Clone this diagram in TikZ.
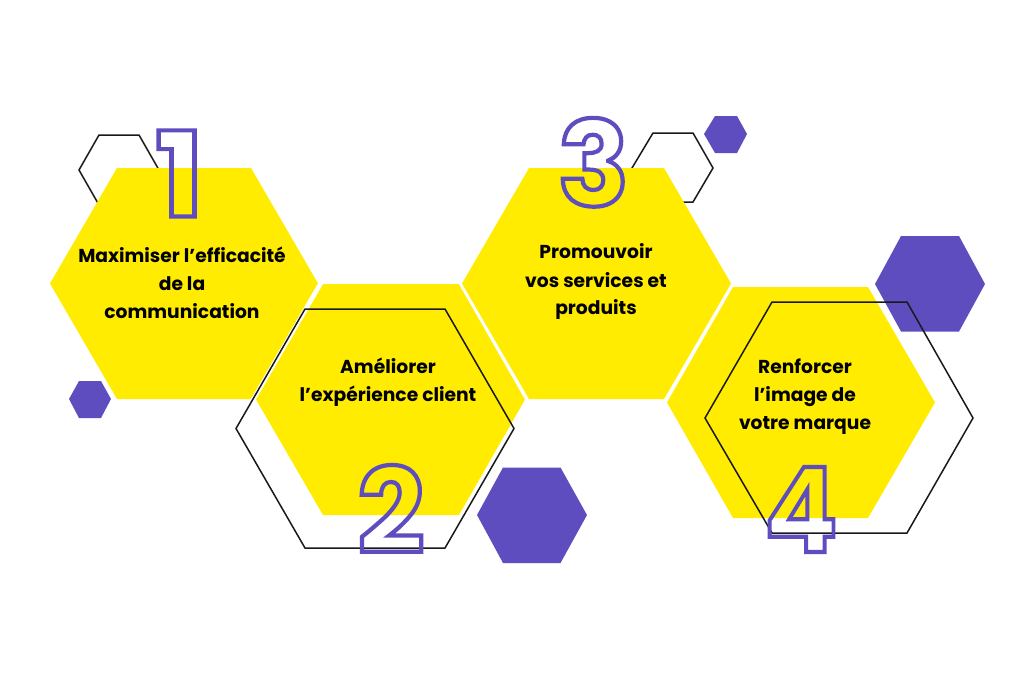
\documentclass[tikz,border=0pt]{standalone}
\usepackage{fontspec}
\setmainfont{Poppins}
\definecolor{hexyellow}{HTML}{FFEC00}
\definecolor{hexpurple}{HTML}{5E4DBE}
\newcommand{\outlinedigit}[1]{\special{pdf:code q 1 Tr 4.2 w 0.369 0.302 0.745 RG}#1\special{pdf:code 0 Tr Q}}
\tikzset{
  x=1pt,y=-1pt,
  yellowhex/.style={fill=hexyellow,draw=none},
  purplehex/.style={fill=hexpurple,draw=none},
  linehex/.style={draw=black!90,line width=1.5pt,line join=miter},
  label/.style={font=\fontsize{18.7}{20}\selectfont\bfseries,text=black,anchor=base,inner sep=0pt},
  numeral/.style={font=\fontsize{118}{118}\selectfont\bfseries,anchor=base,inner sep=0pt},
}
\begin{document}
\begin{tikzpicture}
\useasboundingbox (0,0) rectangle (1024,683);
\fill[white] (0,0) rectangle (1024,683);
% back shapes
\draw[linehex] (79,170)--(99,135)--(139,135)--(159,170)--(139,205)--(99,205)--cycle;
\draw[linehex] (632,168)--(653,133)--(693,133)--(713,168)--(693,202)--(653,202)--cycle;
\fill[purplehex] (69,399)--(79,381)--(101,381)--(111,399)--(101,418)--(79,418)--cycle;
\fill[purplehex] (477,515)--(503,467.5)--(560.5,467.5)--(587,515)--(560.5,563)--(503,563)--cycle;
\fill[purplehex] (704,134)--(715,116)--(737,116)--(747,134)--(737,153)--(715,153)--cycle;
\fill[purplehex] (875,284)--(901,236)--(959,236)--(985,284)--(959,331.5)--(901,331.5)--cycle;
% yellow hexagons
\fill[yellowhex] (50,283.5)--(117,168)--(251,168)--(318,283.5)--(251,399)--(117,399)--cycle;
\fill[yellowhex] (256,399.5)--(323,284)--(459,284)--(525,399.5)--(459,515)--(323,515)--cycle;
\fill[white] (318,283.5)--(251,399)--(256,399) --(323,283.5)--cycle;
\fill[white] (459,284)--(525,399)--(528,399)--(462,283.5)--cycle;
\fill[yellowhex] (462,283.5)--(529,168)--(664,168)--(731,283.5)--(664,399)--(529,399)--cycle;
\fill[yellowhex] (667,402.5)--(733,287)--(868,287)--(935,402.5)--(868,518)--(733,518)--cycle;
% front outlines
\draw[linehex] (236,428.5)--(305,309)--(445,309)--(514,428.5)--(445,548)--(305,548)--cycle;
\draw[linehex] (705,418)--(772,302)--(907,302)--(973,418)--(907,533)--(772,533)--cycle;
% numbers
\node[numeral] (n1) at (179.5,216.5) {\scalebox{1.1}[1]{\outlinedigit{1}}};
\node[numeral] (n2) at (391,553) {\outlinedigit{2}};
\node[numeral] (n3) at (593.5,206) {\outlinedigit{3}};
\node[numeral] (n4) at (801,552) {\scalebox{0.92}[1]{\outlinedigit{4}}};
% labels
\node[label] (t1a) at (182,262) {Maximiser l’efficacité};
\node[label] (t1b) at (182,290.5) {de la};
\node[label] (t1c) at (182,318) {communication};
\node[label] (t2a) at (388,373) {Améliorer};
\node[label] (t2b) at (388,401) {l’expérience client};
\node[label] (t3a) at (596,258) {Promouvoir};
\node[label] (t3b) at (596,287) {vos services et};
\node[label] (t3c) at (596,314) {produits};
\node[label] (t4a) at (805,373) {Renforcer};
\node[label] (t4b) at (805,401) {l’image de};
\node[label] (t4c) at (805,429) {votre marque};
\end{tikzpicture}
\end{document}
